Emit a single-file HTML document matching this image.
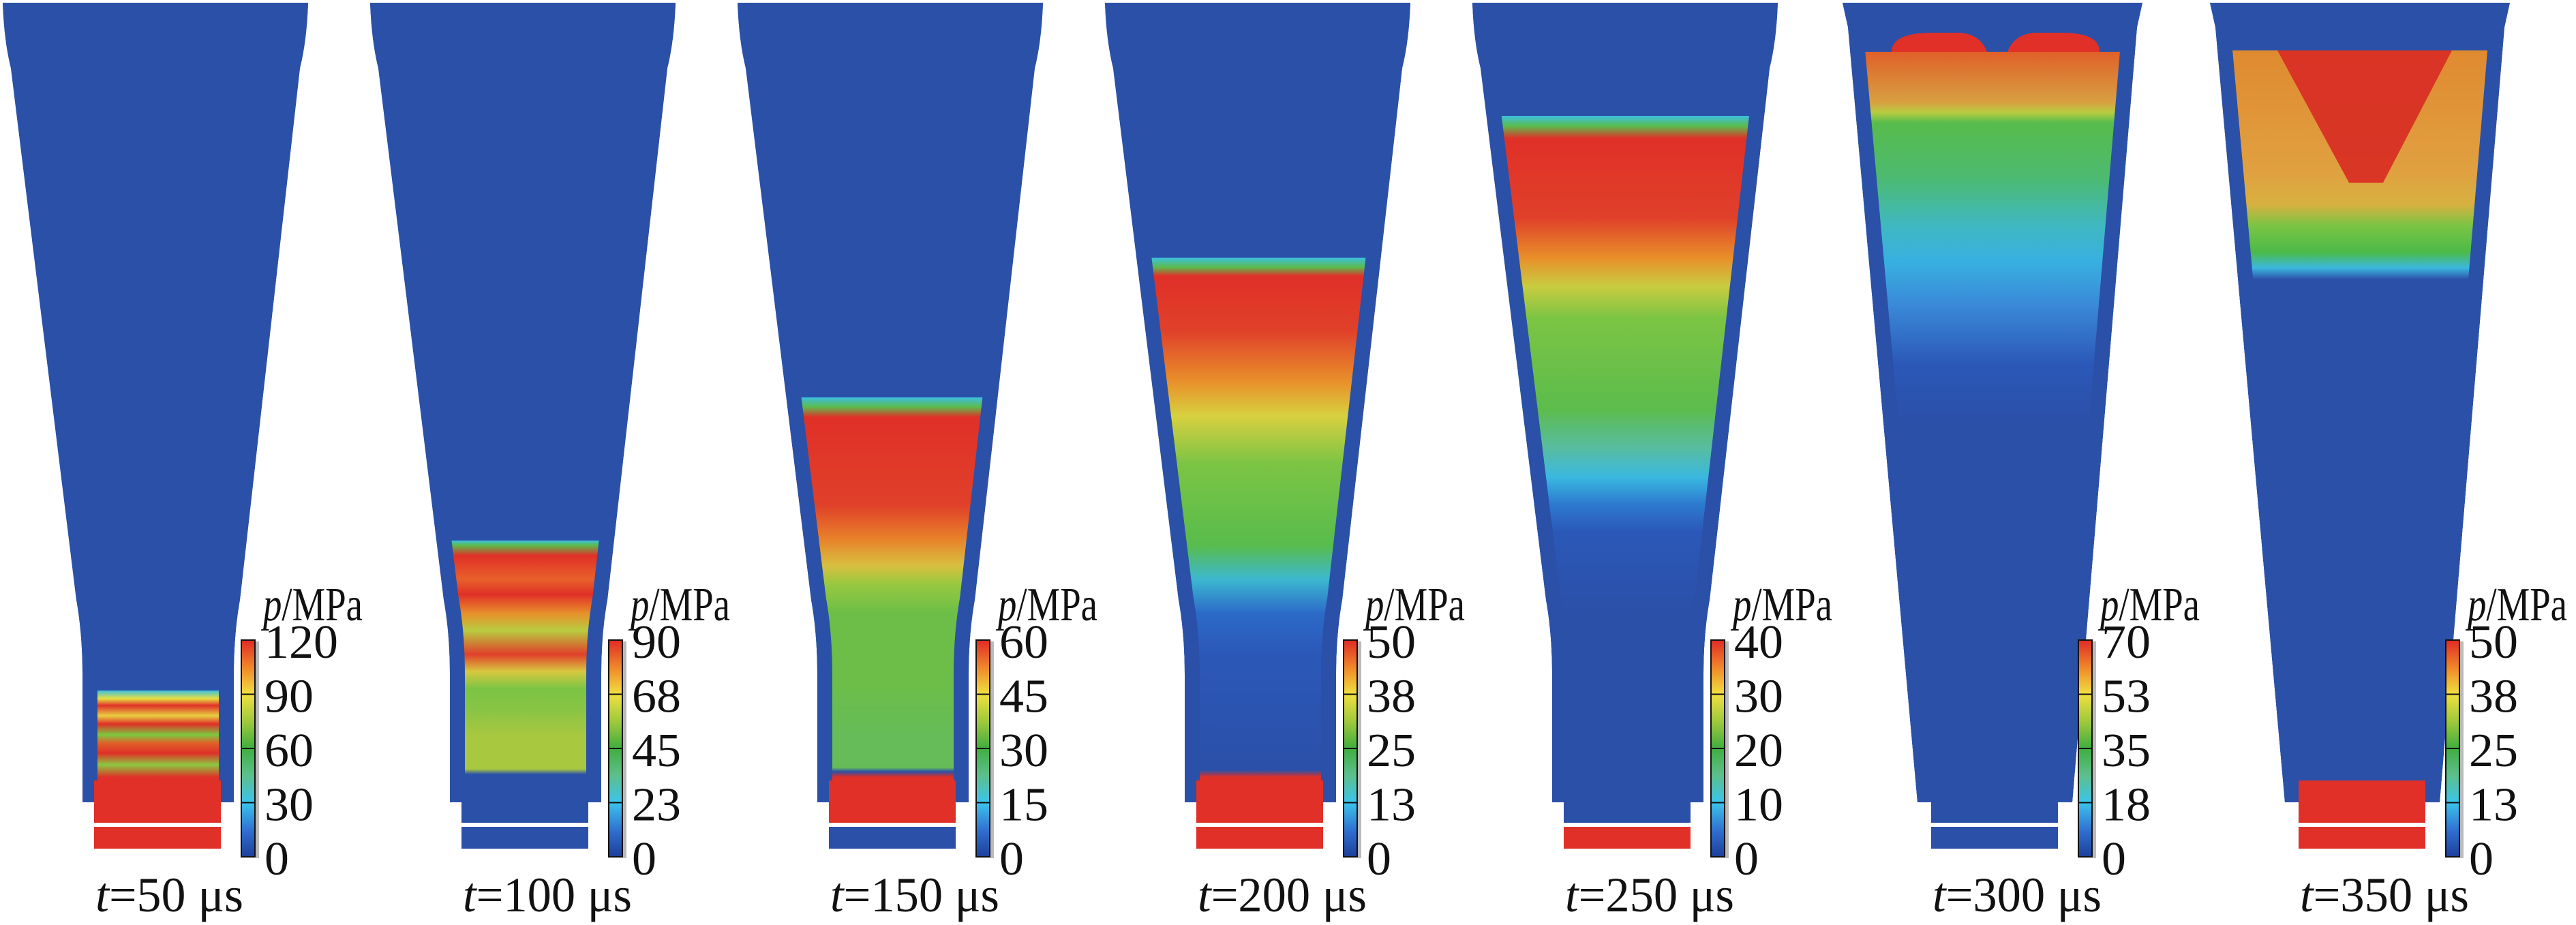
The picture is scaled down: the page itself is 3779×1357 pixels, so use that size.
<!DOCTYPE html>
<html><head><meta charset="utf-8"><style>
html,body{margin:0;padding:0;background:#fff;width:3779px;height:1357px;overflow:hidden}
svg{display:block}
text{font-family:"Liberation Serif",serif;fill:#111}
</style></head><body>
<svg id="chart" width="3779" height="1357" viewBox="0 0 3779 1357" xmlns="http://www.w3.org/2000/svg">
<defs id="defs">
<linearGradient id="cbar" x1="0" y1="1" x2="0" y2="0">
<stop offset="0" stop-color="#1d3f9a"/><stop offset="0.12" stop-color="#2f6fd0"/><stop offset="0.25" stop-color="#3cc4ec"/><stop offset="0.38" stop-color="#5cbf8a"/><stop offset="0.5" stop-color="#3fae3f"/><stop offset="0.62" stop-color="#9cc83c"/><stop offset="0.75" stop-color="#f0e040"/><stop offset="0.87" stop-color="#f08a2a"/><stop offset="1" stop-color="#e02a26"/>
</linearGradient>
</defs>
</svg>
<script>
const times=[50,100,150,200,250,300,350];
const scaleMax=[120,90,60,50,40,70,50];
const tickLabels=[["0","30","60","90","120"],["0","23","45","68","90"],["0","15","30","45","60"],["0","13","25","38","50"],["0","10","20","30","40"],["0","18","35","53","70"],["0","13","25","38","50"]];
// wave front position (pixel row) per panel
const frontY=[1013,793,583,378,170,76,74];
// colour bands: [startY, colour] per panel
const bands=[
 [[1013,"#3cc0e0"],[1025,"#e8e040"],[1035,"#e03028"],[1050,"#e8d040"],[1062,"#e03028"],[1078,"#7cc840"],[1090,"#e06028"],[1105,"#e03028"],[1122,"#8cc840"],[1140,"#e03028"],[1150,"#e03028"]],
 [[793,"#3cc0e0"],[800,"#5cbc4c"],[815,"#e03028"],[850,"#e8602a"],[872,"#e03028"],[900,"#e8902a"],[925,"#b8cc40"],[960,"#e0402a"],[985,"#d8c840"],[1010,"#7cc444"],[1040,"#88c444"],[1080,"#a8c840"],[1128,"#a8c840"],[1136,"#2b50a8"]],
 [[583,"#3cc0e0"],[597,"#5cbc4c"],[612,"#e03028"],[741,"#e0402a"],[790,"#e8802a"],[830,"#d8c040"],[857,"#98c840"],[900,"#6cbe48"],[1000,"#6cbe48"],[1080,"#66bc58"],[1126,"#66bc58"],[1132,"#2b50a8"],[1140,"#e03028"]],
 [[378,"#3cc0e0"],[392,"#5cbc4c"],[405,"#e03028"],[485,"#e0402a"],[560,"#e8902a"],[610,"#d8d040"],[680,"#7cc444"],[800,"#58bc4c"],[850,"#3cb8d0"],[900,"#2c6ac8"],[960,"#2b58b8"],[1130,"#2b50a8"],[1140,"#e03028"]],
 [[170,"#3cc0e0"],[185,"#5cbc4c"],[203,"#e03028"],[320,"#e0402a"],[379,"#e8902a"],[420,"#c8cc40"],[467,"#7cc444"],[600,"#5cbc4c"],[657,"#58bca0"],[700,"#3ab8e0"],[740,"#2c7ad0"],[780,"#2b58b8"],[900,"#2b50a8"]],
 [[76,"#e0602a"],[150,"#d8a040"],[165,"#b8cc40"],[180,"#58bc4c"],[260,"#4cba70"],[330,"#40b8c0"],[384,"#38b0e0"],[446,"#3a8ad8"],[535,"#2b58b8"],[620,"#2b50a8"]],
 [[74,"#e08a30"],[250,"#e0a040"],[300,"#d8b040"],[330,"#7cc444"],[370,"#4cba48"],[393,"#3cb8e0"],[410,"#2b50a8"]]
];
const capColors=[["#e03028","#e03028"],["#2b50a8","#2b50a8"],["#e03028","#2b50a8"],["#e03028","#e03028"],["#2b50a8","#e03028"],["#2b50a8","#2b50a8"],["#e03028","#e03028"]];

const NS="http://www.w3.org/2000/svg";
const svg=document.getElementById('chart');
const defs=document.getElementById('defs');
function mk(t,a,p){const e=document.createElementNS(NS,t);for(const k in a)e.setAttribute(k,a[k]);(p||svg).appendChild(e);return e;}
const PW=539;
function px(i){return i*PW;}
function shapePath(i,ox){
  if(i>=5) return `M${ox+8},4 L${ox+448},4 L${ox+440},40 L${ox+345},1177 L${ox+118},1177 L${ox+16},40 Z`;
  return `M${ox+4},4 L${ox+452},4 Q${ox+450},60 ${ox+440},100 L${ox+352},880 Q${ox+343},930 ${ox+343},990 L${ox+343},1177 L${ox+121},1177 L${ox+121},990 Q${ox+121},930 ${ox+112},880 L${ox+16},100 Q${ox+6},60 ${ox+4},4 Z`;
}
for(let i=0;i<times.length;i++){
  const ox=px(i);
  const g=mk('g',{});
  
  
  const cp=mk('clipPath',{id:'clip'+i},defs);
  mk('path',{d:shapePath(i,ox)},cp);
  const body=mk('path',{d:shapePath(i,ox),fill:'#2b50a8'},g);
  
  
  const grad=mk('linearGradient',{id:'gr'+i,gradientUnits:'userSpaceOnUse',x1:0,y1:frontY[i],x2:0,y2:1177},defs);
  const span=1177-frontY[i];
  bands[i].forEach(b=>{mk('stop',{offset:Math.max(0,(b[0]-frontY[i])/span),'stop-color':b[1]},grad);});
  const gi=mk('g',{'clip-path':'url(#clip'+i+')'},g);
  const wave=mk('rect',{x:ox,y:frontY[i],width:460,height:1177-frontY[i],fill:'url(#gr'+i+')'},gi);
  
  
  if(i===6){const v=mk('path',{d:`M${ox+107},74 L${ox+363},74 L${ox+262},268 L${ox+212},268 Z`,fill:'#d82a24',opacity:0.9},gi);
    }
  if(i===5){
    const h1=mk('path',{d:`M${ox+80},76 Q${ox+80},48 ${ox+140},48 L${ox+180},48 Q${ox+210},50 ${ox+220},76 Z`,fill:'#e03028'},gi);
    
    const h2=mk('path',{d:`M${ox+250},76 Q${ox+260},50 ${ox+290},48 L${ox+330},48 Q${ox+385},48 ${ox+385},76 Z`,fill:'#e03028'},gi);
    
  }
  const wall=mk('path',{d:shapePath(i,ox),fill:'none',stroke:'#2b50a8','stroke-width':44},gi);
  
  // caps
  const c1=mk('rect',{x:ox+138,y:1145,width:186,height:62,fill:capColors[i][0]},g);
  
  const c2=mk('rect',{x:ox+138,y:1213,width:186,height:32,fill:capColors[i][1]},g);
  
  // colorbar
  const cb=mk('rect',{x:ox+354,y:939,width:20,height:318,fill:'url(#cbar)',stroke:'#111','stroke-width':2},g);
  
  mk('rect',{x:ox+375,y:941,width:5,height:318,fill:'#bbb'},g);
  tickLabels[i].forEach((t,k)=>{
    const y=1257-k*79.5;
    if(k>0&&k<4) mk('line',{x1:ox+354,x2:ox+374,y1:y,y2:y,stroke:'#111','stroke-width':2},g);
    const tx=mk('text',{x:ox+388,y:y+26,'font-size':70,textLength:36*t.length,lengthAdjust:'spacingAndGlyphs'},g);
    tx.textContent=t;
    
  });
  const un=mk('text',{x:ox+386,y:910,'font-size':70,textLength:146,lengthAdjust:'spacingAndGlyphs'},g);
  un.innerHTML='<tspan font-style="italic">p</tspan>/MPa';
  
  const lbl='t='+times[i]+' μs';
  const lb=mk('text',{x:ox+140,y:1337,'font-size':72,textLength:31*lbl.length,lengthAdjust:'spacingAndGlyphs'},g);
  lb.innerHTML='<tspan font-style="italic">t</tspan>='+times[i]+' μs';
  
}
</script>
</body></html>
